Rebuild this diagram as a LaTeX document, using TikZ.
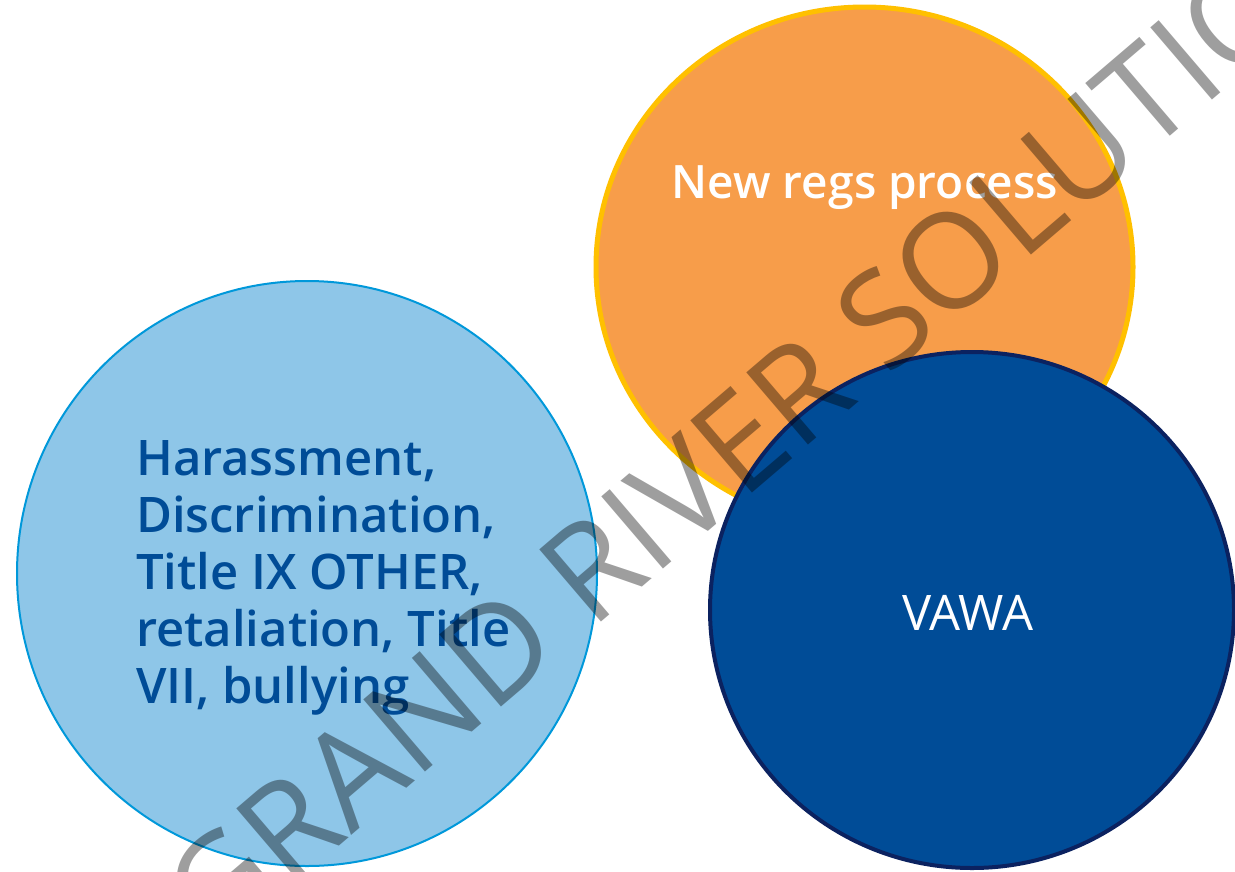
\documentclass[tikz,border=0pt]{standalone}
\usepackage{fontspec}
\setmainfont{Open Sans}
\IfFontExistsTF{Open Sans SemiBold}{\newfontfamily\semib{Open Sans SemiBold}}{%
  \IfFontExistsTF{Open Sans Semibold}{\newfontfamily\semib{Open Sans Semibold}}{%
    \IfFontExistsTF{OpenSans-Semibold.ttf}{\newfontfamily\semib{OpenSans-Semibold.ttf}}{%
      \newcommand\semib{\bfseries}}}}
\usetikzlibrary{shapes.geometric}
\definecolor{lblue}{HTML}{8EC6E8}
\definecolor{lblueline}{HTML}{0098DA}
\definecolor{orfill}{HTML}{F79D4A}
\definecolor{orline}{HTML}{FFC000}
\definecolor{dblue}{HTML}{004C97}
\definecolor{dblueline}{HTML}{0B2260}
\tikzset{
  blob/.style={ellipse, inner sep=0pt, outer sep=0pt},
  lbl/.style={inner sep=0pt, font=\semib\fontsize{46}{55}\selectfont},
}
\begin{document}
\begin{tikzpicture}[x=1pt,y=-1pt]
\useasboundingbox (0,0) rectangle (1235,871);
\fill[white] (0,0) rectangle (1235,871);
\node[blob, fill=lblue, draw=lblueline, line width=2pt, minimum width=580pt, minimum height=585pt] (c1) at (307,573.5) {};
\node[blob, fill=orfill, draw=orline, line width=5pt, minimum width=537pt, minimum height=520pt] (c2) at (864.5,267) {};
\node[blob, fill=dblue, draw=dblueline, line width=4pt, minimum width=524pt, minimum height=516pt] (c3) at (972,610) {};
\node[lbl, text=white, anchor=base] (t2) at (865,198) {New regs process};
\node[inner sep=0pt, text=white, anchor=base, font=\fontsize{49}{55}\selectfont] (t3) at (968,630) {VAWA};
\node[inner sep=0pt, text=dblue, anchor=base west, align=left,
  font=\semib\fontsize{49}{57}\selectfont] (t1) at (136,703)
  {Harassment,\\Discrimination,\\Title IX OTHER,\\retaliation, Title\\VII, bullying};
\node[inner sep=0pt, anchor=base west, rotate=40.5, text=black, text opacity=0.38,
  font=\fontsize{133}{133}\selectfont] (wm) at (215,952) {GRAND RIVER SOLUTIONS};
\end{tikzpicture}
\end{document}
